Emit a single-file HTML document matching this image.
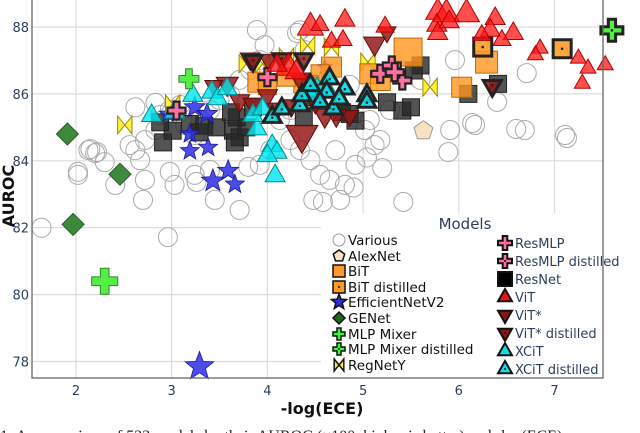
<!DOCTYPE html>
<html><head><meta charset="utf-8"><style>
html,body{margin:0;padding:0;background:#fff;width:640px;height:433px;overflow:hidden}
svg{display:block;font-family:"DejaVu Sans","Liberation Sans",sans-serif}
</style></head><body>
<svg id="chart" width="640" height="433" viewBox="0 0 640 433" xmlns="http://www.w3.org/2000/svg">
<g id="grid"></g>
<g id="marks"></g>
<g id="legend"></g>
<g id="axes"></g>
</svg>
<script>
const xTicks=[2,3,4,5,6,7];
const yTicks=[78,80,82,84,86,88];
const variousX=[1.64,2.02,2.2,2.13,2.3,2.56,2.62,2.67,2.72,2.83,2.98,2.88,3.09,3.14,3.24,3.3,3.4,3.5,3.61,3.71,3.82,3.92,3.97,4.34,4.39,4.13,4.24,4.34,4.45,4.55,4.65,4.76,4.81,4.92,5.02,5.07,5.28,5.39,5.6,5.96,6.17,6.69,7.11,3.45,3.71,2.72,2.41,3.03,3.92,4.03,4.24,4.55,4.86,5.91,4.71,5.18,3.4,3.24,5.12,2.96,5.42,4.9,5.89,7.13,6.6,6.14,6.71,6.4,5.2,5.04,4.58,2.02,2.15,2.22,2.62,2.7,2.98,3.26,2.83,3.89,4.31,4.48,3.8];
const variousY=[82.0,83.67,84.23,84.32,83.96,84.47,84.32,84.02,84.62,84.92,85.52,85.37,85.67,85.07,84.77,85.22,85.52,85.82,85.97,86.42,86.71,87.01,87.46,87.9,87.31,85.22,84.62,84.32,84.02,83.58,83.43,82.83,83.28,83.88,84.92,85.22,85.52,86.71,86.42,87.01,85.07,84.92,84.77,82.83,82.53,83.43,83.28,83.28,83.88,84.32,85.52,86.12,86.27,84.92,84.32,84.62,83.73,83.58,84.47,81.72,82.77,83.2,84.26,84.68,84.95,85.13,86.62,85.76,83.78,84.1,82.77,83.58,84.35,84.26,85.6,82.83,83.67,83.37,85.73,87.91,87.82,82.83,83.82];
const alexX=[5.63]; const alexY=[84.9];
const genetX=[1.91,2.46,1.97]; const genetY=[84.8,83.6,82.1];
const mixerX=[2.3,3.18]; const mixerY=[80.4,86.45]; const mixerS=[26,20];
const mixerDX=[7.6]; const mixerDY=[87.9];
const effX=[3.29,3.24,3.37,3.19,3.38,3.43,3.59,3.66,3.19,2.96,4.6]; 
const effY=[77.85,85.6,85.4,84.3,84.4,83.4,83.7,83.3,84.8,85.4,86.8];
const effS=[30,22,22,20,20,24,22,20,20,18,16];
const regX=[2.51,3.01,3.78,4.2,4.42,4.67,5.05,5.7,3.95];
const regY=[85.07,85.7,86.9,87.1,87.45,87.4,86.95,86.2,86.9];
const resnetX=[2.91,3.01,2.88,3.19,3.34,3.47,3.29,3.64,3.71,3.66,3.78,3.68,4.38,5.25,5.41,5.5,5.6,5.53,6.1,6.41,4.78,4.86,3.62,3.85,4.92,4.5,4.45];
const resnetY=[84.55,84.9,85.15,85.1,85.05,85.0,84.85,84.9,84.7,84.55,85.0,85.3,85.3,85.75,85.5,85.6,86.85,86.7,86.0,86.3,85.45,85.4,85.45,85.6,85.2,85.9,86.3];
const bitX=[3.9,4.0,4.37,5.47,6.29,6.03,5.07,4.67,5.18,4.2,4.55];
const bitY=[86.35,86.25,86.3,87.25,86.95,86.2,86.6,86.8,86.4,86.5,86.6];
const bitS=[20,18,18,28,22,20,20,20,20,18,18];
const bitDX=[6.25,7.08]; const bitDY=[87.4,87.35];
const resmlpX=[5.18,5.41,5.3,5.33,4.0,3.05]; const resmlpY=[86.6,86.4,86.85,86.65,86.5,85.5];
const vitX=[4.45,4.22,5.78,5.87,6.08,5.77,5.78,6.38,6.57,6.33,6.45,6.24,4.81,5.23,6.85,6.8,7.25,7.35,7.53,7.29,4.67,4.79,4.55,4.1,5.9,4.3];
const vitY=[88.05,86.85,88.5,88.45,88.45,88.1,87.85,88.3,87.85,87.95,87.65,87.8,88.25,88.05,87.4,87.2,87.1,86.8,86.9,86.35,87.6,87.65,88.1,86.9,88.2,86.7];
const vitS=[26,26,24,26,26,20,20,20,20,20,18,18,20,18,16,16,16,16,16,16,18,18,18,20,20,22];
const vitsX=[3.82,4.02,3.58,3.44,3.71,3.85,4.1,4.36,4.34,5.12,5.25,4.86,4.6,4.72,4.0,4.25,4.5];
const vitsY=[87.0,86.95,86.25,86.2,85.75,85.65,85.5,84.7,86.4,87.45,87.8,85.3,85.3,85.3,85.9,85.6,85.7];
const vitsS=[20,20,22,18,20,20,20,32,20,22,18,18,22,20,20,20,20];
const vitsDX=[4.38,6.35,3.85,4.15]; const vitsDY=[87.0,86.2,86.95,87.0];
const xcitX=[2.79,3.22,3.42,3.48,3.58,3.03,3.89,3.85,4.05,4.1,4.0,4.08,4.52,4.55,4.45,4.6,3.95];
const xcitY=[85.4,86.0,86.1,85.9,86.2,85.5,85.0,85.4,84.5,84.3,84.2,83.6,86.2,85.8,86.0,86.3,85.6];
const xcitDX=[4.05,4.15,4.34,4.36,4.65,4.62,4.81,4.69,5.04,5.04,4.55,4.75,4.45];
const xcitDY=[85.35,85.6,85.7,86.0,86.5,86.1,86.2,85.6,86.0,85.8,85.8,85.9,86.3];

const NS='http://www.w3.org/2000/svg';
const L=32,R=603,T=0,B=378;
function sx(v){return 76+(v-2)*95.7;}
function sy(v){return 27+(88-v)*33.45;}
function el(tag,attrs,parent){const e=document.createElementNS(NS,tag);for(const k in attrs)e.setAttribute(k,attrs[k]);parent.appendChild(e);return e;}
const grid=document.getElementById('grid'),marks=document.getElementById('marks'),legend=document.getElementById('legend'),axes=document.getElementById('axes');

xTicks.forEach(t=>{const l=el('line',{x1:sx(t),x2:sx(t),y1:T,y2:B,stroke:'#dcdcdc','stroke-width':1.2},grid);


const tx=el('text',{x:sx(t),y:395,'text-anchor':'middle','font-size':13,fill:'#2a3f5f'},axes);tx.textContent=t;

});
yTicks.forEach(t=>{const l=el('line',{x1:L,x2:R,y1:sy(t),y2:sy(t),stroke:'#dcdcdc','stroke-width':1.2},grid);


const tx=el('text',{x:29,y:sy(t)+5,'text-anchor':'end','font-size':13,fill:'#2a3f5f'},axes);tx.textContent=t;

});

function shape(type,cx,cy,s,fill,stroke,sw,parent){
  const h=s/2;let e;
  if(type==='circle')e=el('circle',{cx,cy,r:h,fill,stroke,'stroke-width':sw},parent);
  else if(type==='square')e=el('rect',{x:cx-h,y:cy-h,width:s,height:s,fill,stroke,'stroke-width':sw},parent);
  else{let pts=[];
    if(type==='up')pts=[[0,-h],[h,h*0.75],[-h,h*0.75]];
    else if(type==='down')pts=[[0,h],[h,-h*0.75],[-h,-h*0.75]];
    else if(type==='diamond')pts=[[0,-h],[h,0],[0,h],[-h,0]];
    else if(type==='bowtie')pts=[[-h*0.8,-h],[0,0],[h*0.8,-h],[h*0.8,h],[0,0],[-h*0.8,h]];
    else if(type==='cross'){const a=h/3;pts=[[-a,-h],[a,-h],[a,-a],[h,-a],[h,a],[a,a],[a,h],[-a,h],[-a,a],[-h,a],[-h,-a],[-a,-a]];}
    else if(type==='pent'){for(let i=0;i<5;i++){const an=-Math.PI/2+i*2*Math.PI/5;pts.push([h*Math.cos(an),h*Math.sin(an)]);}}
    else if(type==='star'){for(let i=0;i<10;i++){const an=-Math.PI/2+i*Math.PI/5;const r=i%2?h*0.42:h;pts.push([r*Math.cos(an),r*Math.sin(an)]);}}
    e=el('polygon',{points:pts.map(p=>(cx+p[0]).toFixed(1)+','+(cy+p[1]).toFixed(1)).join(' '),fill,stroke,'stroke-width':sw,'stroke-linejoin':'miter'},parent);}
  return e;
}
function series(name,xs,ys,type,size,fill,stroke,sw,distilled,sizes){
  const g=el('g',{},marks);
  
  
  xs.forEach((x,i)=>{const s=sizes?sizes[i]:size;const cx=sx(x),cy=sy(ys[i]);
    const m=shape(type,cx,cy,s,fill,distilled?'#222':stroke,distilled?3:sw,g);
    
    
    if(distilled){const d=el('circle',{cx,cy:type==='up'?cy+2:(type==='down'?cy-2:cy),r:1.3,fill:'#222'},g);
      
      }
  });
}
series('various',variousX,variousY,'circle',19,'none','#aaaaaa',1,false);
series('genet',genetX,genetY,'diamond',22,'#3d8a3d','#2a5a2a',1,false);
series('resnet',resnetX,resnetY,'square',17,'rgba(40,40,40,0.8)','#222',1,false);
series('efficientnetv2',effX,effY,'star',20,'rgba(45,45,230,0.85)','#1a1a90',0.8,false,effS);
series('regnety',regX,regY,'bowtie',18,'#fff03a','#9a8a00',1,false);
series('bit',bitX,bitY,'square',20,'rgba(255,150,30,0.8)','#c06a00',1,false,bitS);
series('bit-distilled',bitDX,bitDY,'square',18,'rgba(255,150,30,0.85)','#222',1,true);
series('vit-star',vitsX,vitsY,'down',20,'rgba(150,25,25,0.85)','#5a0a0a',1,false,vitsS);
series('vit-star-distilled',vitsDX,vitsDY,'down',18,'rgba(150,25,25,0.85)','#222',1,true);
series('xcit',xcitX,xcitY,'up',20,'rgba(0,230,240,0.8)','#008a90',1,false);
series('xcit-distilled',xcitDX,xcitDY,'up',18,'rgba(0,220,230,0.9)','#111',1,true);
series('resmlp',resmlpX,resmlpY,'cross',18,'#ff6fa0','#222',2.2,false);
series('vit',vitX,vitY,'up',20,'rgba(255,20,20,0.75)','#b00000',1,false,vitS);
series('alexnet',alexX,alexY,'pent',20,'#f7e2c2','#999',1,false);
series('mlp-mixer',mixerX,mixerY,'cross',20,'#55ee44','#2a8a2a',1,false,mixerS);
series('mlp-mixer-distilled',mixerDX,mixerDY,'cross',22,'#55ee44','#222',1,true);

const lb=el('rect',{x:321,y:213,width:282,height:165,fill:'#fff'},legend);


const lt=el('text',{x:465,y:229,'text-anchor':'middle','font-size':15,fill:'#2a3f5f'},legend);lt.textContent='Models';


const leftEntries=[['Various','circle','none','#999',false],['AlexNet','pent','#f7e2c2','#111',false],['BiT','square','#ff9a2a','#111',false],['BiT distilled','square','#ff9a2a','#111',true],['EfficientNetV2','star','#2d2de6','#111',false],['GENet','diamond','#1d6a1d','#111',false],['MLP Mixer','cross','#33ff33','#111',false],['MLP Mixer distilled','cross','#33ff33','#111',true],['RegNetY','bowtie','#ffee33','#111',false]];
const leftY=[240,256,271,287,302,318,334,349,365];
leftEntries.forEach((e,i)=>{const g=el('g',{},legend);
  
  
  shape(e[1],339,leftY[i],e[1]==='star'?16:12,e[2],e[3],e[1]==='circle'?1:1.5,g);
  if(e[4])el('circle',{cx:339,cy:leftY[i],r:1,fill:'#111'},g);
  const t=el('text',{x:348,y:leftY[i]+5,'font-size':13.5,fill:'#111'},g);t.textContent=e[0];});
const rightEntries=[['ResMLP','cross','#ff6fa0',false],['ResMLP distilled','cross','#ff6fa0',true],['ResNet','square','#000',false],['ViT','up','#ee1111',false],['ViT*','down','#8a1515',false],['ViT* distilled','down','#8a1515',true],['XCiT','up','#11dde8',false],['XCiT distilled','up','#11dde8',true]];
const rightY=[243,261,279,297,315,333,351,369];
rightEntries.forEach((e,i)=>{const g=el('g',{},legend);
  
  
  shape(e[1],505,rightY[i]+(e[1]==='up'?-1:(e[1]==='down'?1:0)),14,e[2],'#111',2,g);
  if(e[3])el('circle',{cx:505,cy:rightY[i],r:1,fill:'#111'},g);
  const t=el('text',{x:515,y:rightY[i]+5,'font-size':13,fill:'#2a3f5f'},g);t.textContent=e[0];});

const fr=el('rect',{x:L,y:T-1,width:R-L,height:B-T+1,fill:'none',stroke:'#666','stroke-width':1.3},axes);


const xt=el('text',{x:322,y:414,'text-anchor':'middle','font-size':16,'font-weight':'bold',fill:'#111'},axes);xt.textContent='-log(ECE)';


const yt=el('text',{x:0,y:0,'text-anchor':'middle','font-size':16,'font-weight':'bold',fill:'#111',transform:'translate(14,196) rotate(-90)'},axes);yt.textContent='AUROC';


const cap=el('text',{x:0,y:441,'font-size':16,'font-family':'Liberation Serif, serif',fill:'#222'},axes);cap.textContent='1: A comparison of 523 models by their AUROC (×100, higher is better) and -log(ECE)';


</script>
</body></html>
